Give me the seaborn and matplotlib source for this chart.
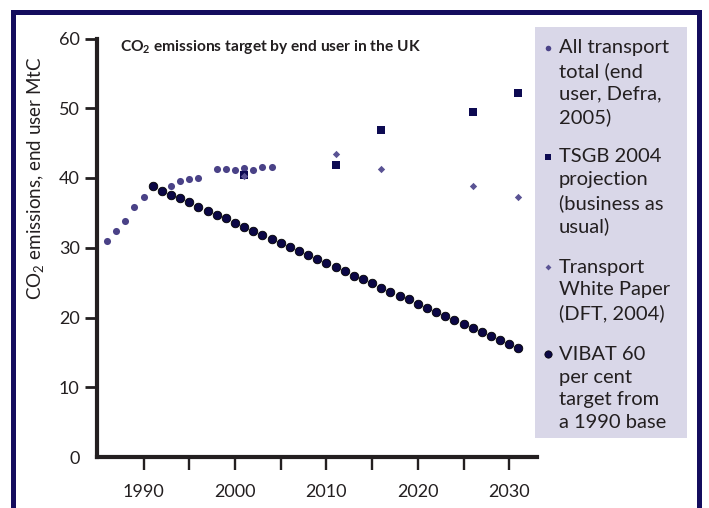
import matplotlib
matplotlib.use("Agg")
import matplotlib.pyplot as plt
import seaborn as sns
import pandas as pd
from matplotlib.patches import Rectangle

# ---- data ----
at_years = [1986, 1987, 1988, 1989, 1990, 1993, 1994, 1995, 1996,
            1998, 1999, 2000, 2001, 2002, 2003, 2004]
at_vals = [30.9, 32.4, 33.9, 35.8, 37.3, 38.9, 39.6, 39.9, 40.0,
           41.3, 41.3, 41.1, 41.4, 41.1, 41.6, 41.6]

tsgb_years = [2001, 2011, 2016, 2026, 2031]
tsgb_vals = [40.5, 41.9, 46.9, 49.5, 52.2]

wp_years = [2001, 2011, 2016, 2026, 2031]
wp_vals = [40.3, 43.5, 41.3, 38.8, 37.3]

vibat_years = list(range(1991, 2032))
vibat_vals = [38.8, 38.2, 37.6, 37.1, 36.5, 35.9, 35.3, 34.7, 34.2, 33.6,
              33.0, 32.4, 31.8, 31.3, 30.7, 30.1, 29.5, 28.9, 28.4, 27.8,
              27.2, 26.6, 26.0, 25.5, 24.9, 24.3, 23.7, 23.1, 22.6, 22.0,
              21.4, 20.8, 20.2, 19.7, 19.1, 18.5, 17.9, 17.3, 16.8, 16.2, 15.6]

x_major = [1990, 2000, 2010, 2020, 2030]
x_minor = [1995, 2005, 2015, 2025]
y_ticks = [0, 10, 20, 30, 40, 50, 60]

legend_labels = [
    ["All transport", "total (end", "user, Defra,", "2005)"],
    ["TSGB 2004", "projection", "(business as", "usual)"],
    ["Transport", "White Paper", "(DFT, 2004)"],
    ["VIBAT 60", "per cent", "target from", "a 1990 base"],
]

# ---- styling ----
sns.set_theme(style="white")
plt.rcParams["font.family"] = ["Lato", "DejaVu Sans"]
plt.rcParams["mathtext.fontset"] = "custom"
plt.rcParams["mathtext.rm"] = "Lato"
plt.rcParams["mathtext.bf"] = "Lato:bold"

TXT = "#231f20"
C_AT = "#4a4287"
C_VIB = "#0b0745"
C_TS = "#0d0a52"
C_WP = "#5a5394"
NAVY = "#140d5e"
LAV = "#d9d7e8"

W, H = 709, 508
fig = plt.figure(figsize=(W / 100, H / 100), dpi=100)
fig.patch.set_facecolor("white")

def fx(px):
    return px / W

def fy(py):
    return 1 - py / H

ax = fig.add_axes([fx(97), fy(457), fx(536.7) - fx(97), fy(38.5) - fy(457)])

at_df = pd.DataFrame({"year": at_years, "val": at_vals})
ts_df = pd.DataFrame({"year": tsgb_years, "val": tsgb_vals})
wp_df = pd.DataFrame({"year": wp_years, "val": wp_vals})
vb_df = pd.DataFrame({"year": vibat_years, "val": vibat_vals})

sns.scatterplot(data=at_df, x="year", y="val", ax=ax, color=C_AT, marker="o",
                s=26, linewidth=0, zorder=3, clip_on=False)
sns.scatterplot(data=vb_df, x="year", y="val", ax=ax, color=C_VIB, marker="o",
                s=38, edgecolor="black", linewidth=0.6, zorder=4, clip_on=False)
sns.scatterplot(data=ts_df, x="year", y="val", ax=ax, color=C_TS, marker="s",
                s=28, linewidth=0, zorder=5, clip_on=False)
sns.scatterplot(data=wp_df, x="year", y="val", ax=ax, color=C_WP, marker="D",
                s=14, linewidth=0, zorder=6, clip_on=False)

ax.set_xlim(1984.9, 2033.0)
ax.set_ylim(0, 60)
ax.set_xlabel("")
ax.set_ylabel("")

for side in ["top", "right"]:
    ax.spines[side].set_visible(False)
for side in ["left", "bottom"]:
    ax.spines[side].set_linewidth(3.0)
    ax.spines[side].set_color(TXT)
    ax.spines[side].set_capstyle("projecting")

ax.set_yticks(y_ticks)
ax.set_yticklabels([str(v) for v in y_ticks])
ax.set_xticks(x_major)
ax.set_xticklabels([str(v) for v in x_major])
ax.set_xticks(x_minor, minor=True)

ax.tick_params(axis="y", which="major", direction="out", length=8.5, width=2.0,
               color=TXT, labelcolor=TXT, labelsize=13, pad=4, left=True)
ax.tick_params(axis="x", which="both", direction="out", length=9.5, width=1.7,
               color=TXT, labelcolor=TXT, labelsize=13, pad=10, bottom=True)
ax.yaxis.get_major_ticks()[0].tick1line.set_visible(False)

# y-axis label
fig.text(fx(36), fy(178), "CO$_2$ emissions, end user MtC", rotation=90,
         ha="center", va="center", fontsize=13.5, color=TXT)

# title
fig.text(fx(120), fy(47), r"CO$_\mathbf{2}$ emissions target by end user in the UK",
         ha="left", va="center", fontsize=11.2, fontweight="bold", color=TXT)

# legend panel
lax = fig.add_axes([fx(535), fy(438), fx(687) - fx(535), fy(27) - fy(438)])
lax.set_xlim(535, 687)
lax.set_ylim(438, 27)
lax.set_facecolor(LAV)
for s in lax.spines.values():
    s.set_visible(False)
lax.set_xticks([])
lax.set_yticks([])

block_starts = [48, 157, 267, 354]
step = 23
mk_styles = [
    dict(marker="o", s=16, color=C_AT, linewidths=0),
    dict(marker="s", s=20, color=C_TS, linewidths=0),
    dict(marker="D", s=9, color=C_WP, linewidths=0),
    dict(marker="o", s=28, color=C_VIB, edgecolors="black", linewidths=0.5),
]
for start, lines, mk in zip(block_starts, legend_labels, mk_styles):
    lax.scatter([548], [start], **mk)
    for i, line in enumerate(lines):
        lax.text(559, start + i * step, line, ha="left", va="center",
                 fontsize=14.5, color=TXT)

# outer navy frame
fig.patches.append(Rectangle((fx(12.5), fy(540)), fx(699) - fx(12.5), fy(12.5) - fy(540),
                             transform=fig.transFigure, fill=False,
                             edgecolor=NAVY, linewidth=3.6, clip_on=False))

fig.savefig("out.png", dpi=100)
